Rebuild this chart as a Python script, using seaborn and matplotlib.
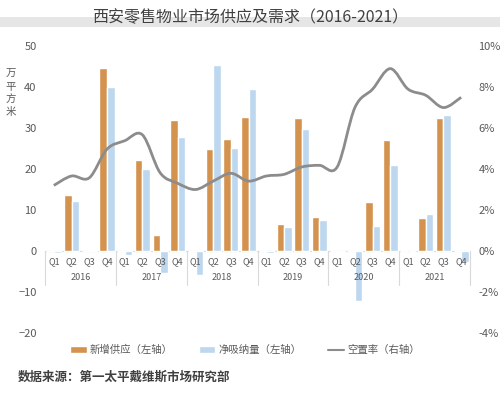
import matplotlib
matplotlib.use("Agg")
import matplotlib.pyplot as plt
import matplotlib.transforms as mtransforms
import seaborn as sns
import pandas as pd
from matplotlib.path import Path
from matplotlib.patches import PathPatch, Patch, Rectangle
from matplotlib.lines import Line2D
from matplotlib.ticker import FuncFormatter

# data
years = ['2016', '2017', '2018', '2019', '2020', '2021']
quarters = ['Q1', 'Q2', 'Q3', 'Q4']
supply = [0, 13.7, 0, 44.7,
          0, 22.2, 4.0, 32.0,
          0, 24.8, 27.4, 32.6,
          0, 6.6, 32.5, 8.4,
          0, 0, 12.0, 27.0,
          0, 8.0, 32.5, 0]
absorption = [-0.6, 12.3, 0.2, 40.0,
              -1.0, 20.0, -5.3, 27.7,
              -5.8, 45.3, 25.2, 39.5,
              -0.5, 5.8, 29.8, 7.5,
              -0.3, -12.1, 6.0, 21.0,
              -0.1, 9.0, 33.1, -2.6]
vacancy = [3.2, 3.66, 3.57, 4.97,
           5.38, 5.67, 3.82, 3.3,
           3.0, 3.41, 3.79, 3.41,
           3.66, 3.74, 4.1, 4.18,
           4.1, 7.0, 7.9, 8.9,
           7.9, 7.6, 7.0, 7.5]
series_names = ['新增供应（左轴）', '净吸纳量（左轴）']
line_name = '空置率（右轴）'

periods = [y + q for y in years for q in quarters]
df = pd.DataFrame({
    'period': periods * 2,
    'value': supply + absorption,
    'series': [series_names[0]] * len(periods) + [series_names[1]] * len(periods),
})

orange = '#D4924F'
blue = '#BDD7EE'
grey_line = '#8C8C8C'
txt = '#595959'
sep = '#D9D9D9'

sns.set_theme(style='white')
plt.rcParams['font.family'] = ['Noto Sans CJK SC', 'DejaVu Sans']

fig = plt.figure(figsize=(5, 3.94), dpi=100)
ax = fig.add_axes([0.09, 0.155, 0.85, 0.728])

sns.barplot(data=df, x='period', y='value', hue='series', palette=[orange, blue],
            width=0.85, saturation=1, legend=False, ax=ax, zorder=2)

n = len(periods)
ax.set_xlim(-0.5, n - 0.5)
ax.set_ylim(-20, 50)
ax.set_yticks(range(-20, 51, 10))
ax.set_xticks([])
ax.set_xlabel('')
ax.set_ylabel('')
ax.tick_params(axis='y', length=0, labelsize=8, colors=txt, pad=6)
for s in ax.spines.values():
    s.set_visible(False)
ax.axhline(0, color=sep, lw=0.8, zorder=1)

# category labels (quarters + years) with year separators
trans = mtransforms.blended_transform_factory(ax.transData, ax.transAxes)
for i, p in enumerate(periods):
    ax.text(i, 0.247, quarters[i % 4], transform=trans, ha='center', va='center',
            fontsize=6.5, color=txt, zorder=5)
for k, y in enumerate(years):
    ax.text(4 * k + 1.5, 0.192, y, transform=trans, ha='center', va='center',
            fontsize=6.5, color=txt, zorder=5)
for k in range(len(years) + 1):
    x = 4 * k - 0.5
    ax.plot([x, x], [0.167, 0.286], transform=trans, color=sep, lw=0.8, clip_on=False)

# right axis: vacancy rate, smoothed line
ax2 = ax.twinx()
ax2.set_ylim(-4, 10)
ax2.set_yticks(range(-4, 11, 2))
ax2.yaxis.set_major_formatter(FuncFormatter(lambda v, _: f'{int(v)}%'))
ax2.tick_params(axis='y', length=0, labelsize=8, colors=txt, pad=6)
for s in ax2.spines.values():
    s.set_visible(False)
ax2.set_xlim(-0.5, n - 0.5)

pts = list(zip(range(n), vacancy))
verts = [pts[0]]
codes = [Path.MOVETO]
for i in range(n - 1):
    p0 = pts[max(i - 1, 0)]
    p1 = pts[i]
    p2 = pts[i + 1]
    p3 = pts[min(i + 2, n - 1)]
    c1 = (p1[0] + (p2[0] - p0[0]) / 6, p1[1] + (p2[1] - p0[1]) / 6)
    c2 = (p2[0] - (p3[0] - p1[0]) / 6, p2[1] - (p3[1] - p1[1]) / 6)
    verts += [c1, c2, p2]
    codes += [Path.CURVE4] * 3
ax2.add_patch(PathPatch(Path(verts, codes), facecolor='none', edgecolor=grey_line,
                        lw=2, zorder=3))

# y-axis unit label, stacked vertically
fig.text(0.022, 1 - 93 / 394, '万\n平\n方\n米', ha='center', va='center',
         fontsize=7.5, color=txt, linespacing=1.3)

# title with grey band
fig.patches.append(Rectangle((0, 1 - 27 / 394), 1, 10 / 394, transform=fig.transFigure,
                             facecolor='#E6E6E6', edgecolor='none', zorder=0))
fig.text(0.5, 1 - 18 / 394, '西安零售物业市场供应及需求（2016-2021）', ha='center', va='center',
         fontsize=11.5, color='#404040', fontweight='medium', zorder=2)

handles = [Patch(facecolor=orange), Patch(facecolor=blue),
           Line2D([0], [0], color=grey_line, lw=1.5)]
fig.legend(handles, series_names + [line_name], loc='center', bbox_to_anchor=(0.49, 1 - 350 / 394),
           ncol=3, frameon=False, fontsize=7.5, handlelength=1.6, handleheight=0.55,
           handletextpad=0.3, columnspacing=2.5, labelcolor=txt)

fig.text(0.035, 1 - 377 / 394, '数据来源：第一太平戴维斯市场研究部', ha='left', va='center',
         fontsize=9, color='#404040', fontweight='bold', style='italic')

fig.savefig('out.png', dpi=100)
